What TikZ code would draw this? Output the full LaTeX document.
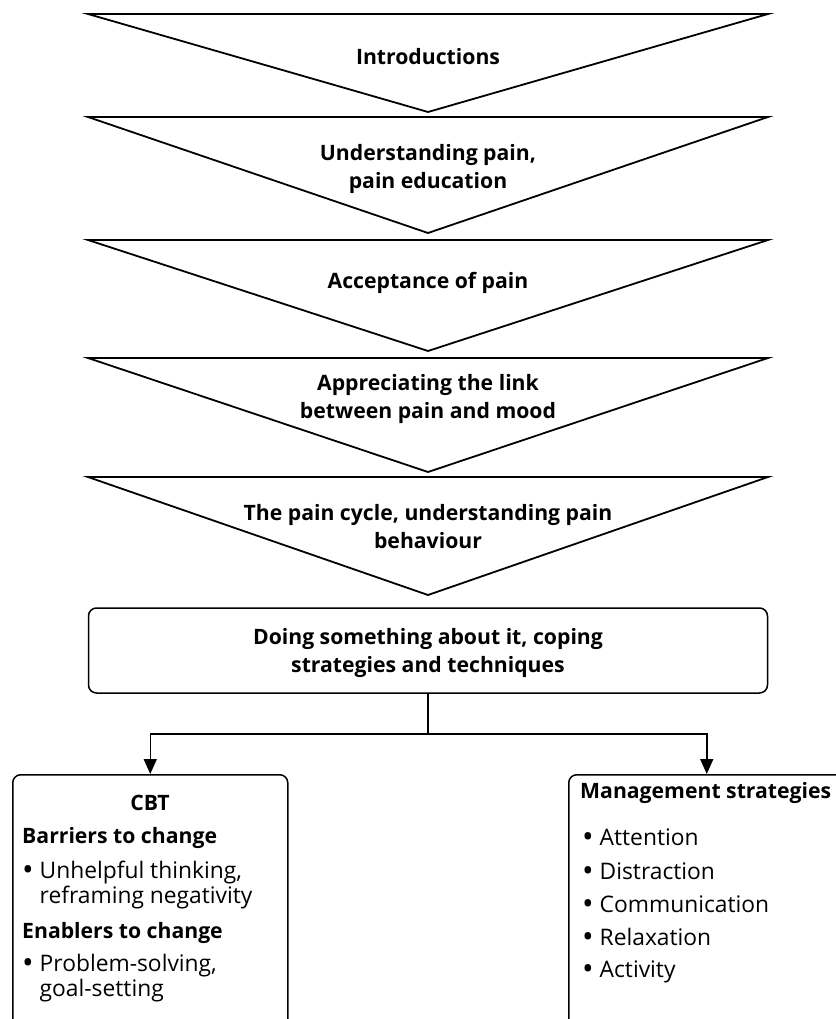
\documentclass[tikz,border=0pt]{standalone}
\usepackage{fontspec}
\setmainfont{Open Sans}
\usetikzlibrary{arrows.meta}
% a slightly heavier list bullet
\newcommand{\listdot}{\raisebox{-0.08em}{\scalebox{1.35}{\textbullet}}\ }
\begin{document}
\begin{tikzpicture}[x=1pt,y=-1pt,
  funnel/.style={draw=black, line width=1.8pt, line join=miter, fill=white},
  stage/.style={font=\bfseries\fontsize{21.2}{28}\selectfont, align=center, inner sep=0pt},
  roundbox/.style={draw=black, line width=1.5pt, rounded corners=8pt, fill=white, inner sep=0pt},
  head/.style={font=\bfseries\fontsize{21.2}{25}\selectfont, inner sep=0pt},
  item/.style={font=\fontsize{22.8}{25}\selectfont, align=left, inner sep=0pt, anchor=west},
  link/.style={draw=black, line width=1.5pt},
  tip/.style={-{Triangle[length=15pt,width=13pt]}}]
\useasboundingbox (0,0) rectangle (835,1019);

% descending stages
\draw[funnel] (88,14)  -- (768,14)  -- (428,112) -- cycle;
\draw[funnel] (88,117) -- (768,117) -- (428,233) -- cycle;
\draw[funnel] (88,240) -- (768,240) -- (428,351) -- cycle;
\draw[funnel] (88,358) -- (768,358) -- (428,472) -- cycle;
\draw[funnel] (88,477) -- (768,477) -- (428,595) -- cycle;

\node[stage] (s1) at (428,57)    {Introductions};
\node[stage] (s2) at (428,169)   {Understanding pain,\\pain education};
\node[stage] (s3) at (428,283)   {Acceptance of pain};
\node[stage] (s4) at (428,398.5) {Appreciating the link\\between pain and mood};
\node[stage] (s5) at (428,526.5) {The pain cycle, understanding pain\\behaviour};

% coping box
\node[roundbox, minimum width=679pt, minimum height=85pt] (doing) at (428,650.5) {};
\node[stage] (doingtxt) at (428,653) {Doing something about it, coping\\strategies and techniques};

% two branches
\node[roundbox, anchor=north west, minimum width=275pt, minimum height=290pt] (cbt) at (12,774) {};
\node[roundbox, anchor=north west, minimum width=276pt, minimum height=290pt] (mgmt) at (568,774) {};

\draw[link, tip] (doing.south) -- ++(0,40) -| (cbt.north);
\draw[link, tip] (doing.south) -- ++(0,40) -| (mgmt.north);

% CBT contents
\node[head] (cbthead) at (150,803) {CBT};
\node[head, anchor=west] (barriers) at (22,838) {Barriers to change};
\node[item] (unhelpful) at (22,885.5) {\listdot Unhelpful thinking,\\\hphantom{\listdot}reframing negativity};
\node[head, anchor=west] (enablers) at (22,933) {Enablers to change};
\node[item] (problem) at (22,978.5) {\listdot Problem-solving,\\\hphantom{\listdot}goal-setting};

% management contents
\node[head, anchor=west] (mhead) at (580,793) {Management strategies};
\node[item] (m1) at (582,838) {\listdot Attention};
\node[item] (m2) at (582,872) {\listdot Distraction};
\node[item] (m3) at (582,905) {\listdot Communication};
\node[item] (m4) at (582,938) {\listdot Relaxation};
\node[item] (m5) at (582,972) {\listdot Activity};
\end{tikzpicture}
\end{document}
